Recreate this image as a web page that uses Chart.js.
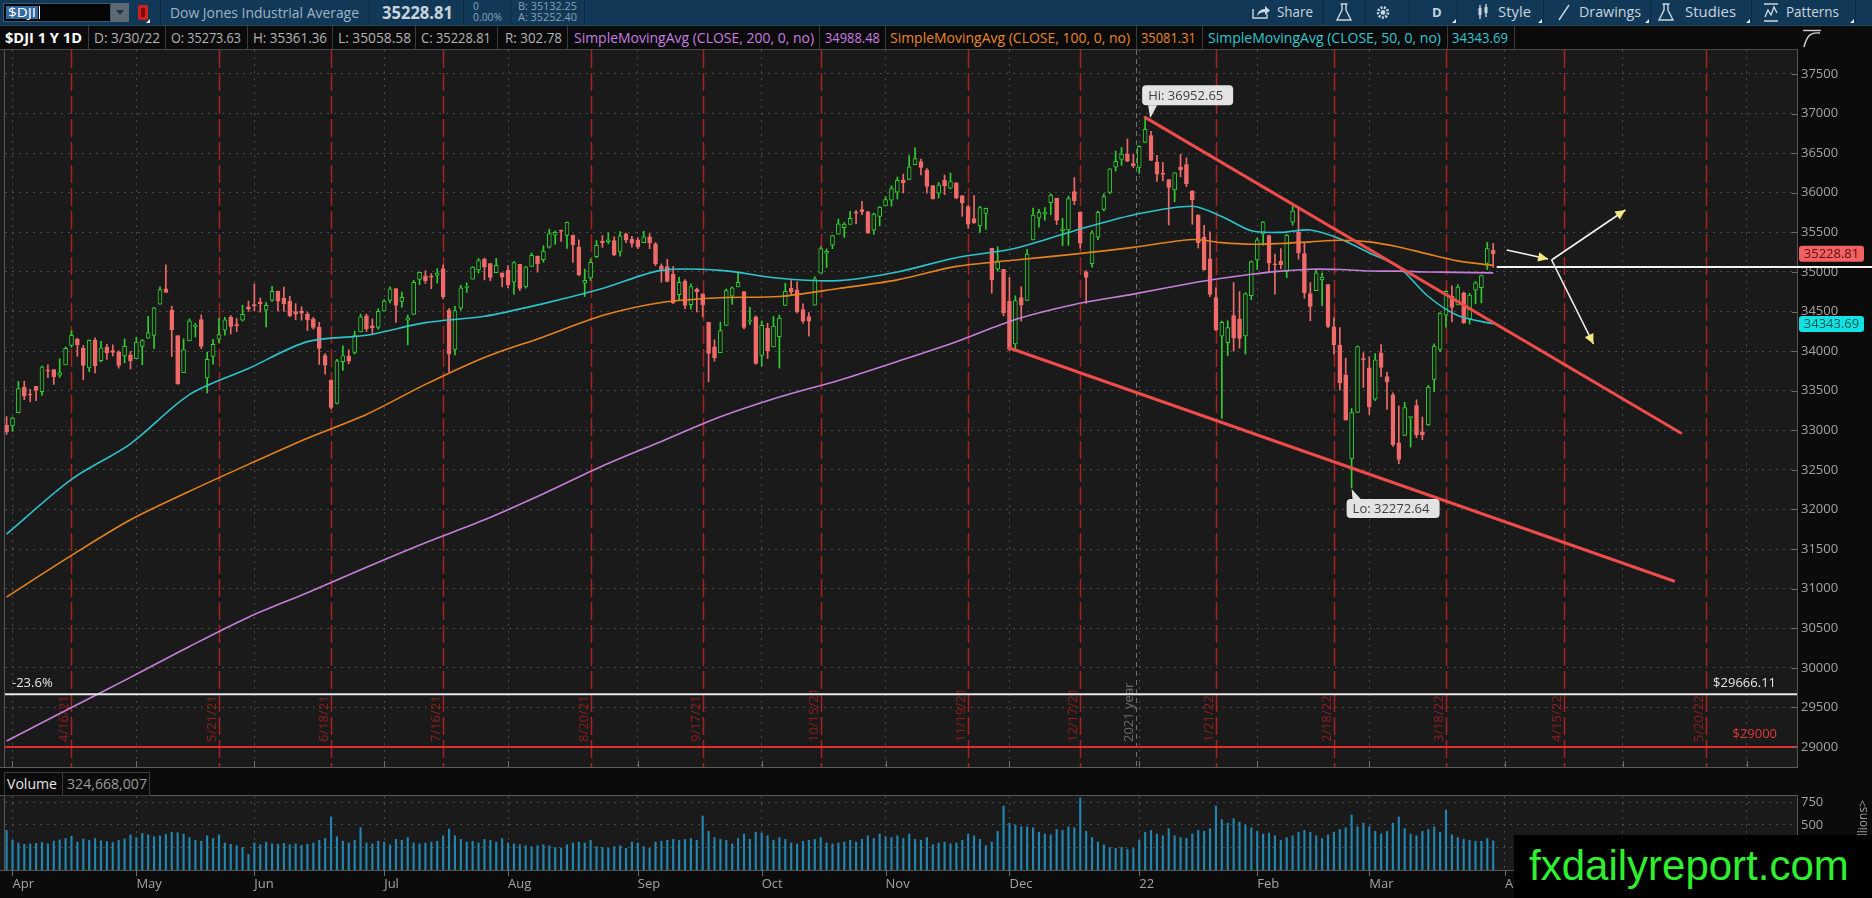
<!DOCTYPE html>
<html>
<head>
<meta charset="utf-8">
<title>$DJI 1 Y 1D</title>
<script src="https://cdn.jsdelivr.net/npm/chart.js@4.4.1/dist/chart.umd.min.js"></script>
<style>
  html, body { margin: 0; padding: 0; background: #0b0b0b; }
  body { position: relative; width: 1872px; height: 898px; overflow: hidden; font-family: "Open Sans", sans-serif; }
  svg, canvas { position: absolute; left: 0; display: block; }
  #top { top: 0; }
  #main { top: 50px; }
  #strip { top: 767px; }
  #vol { top: 796px; }
  #wm { position: absolute; left: 1514px; top: 835px; width: 358px; height: 63px; background: #000;
        color: #2ff02f; font: 42px "Liberation Sans", Arial, sans-serif; line-height: 62px;
        padding-left: 15px; box-sizing: border-box; white-space: nowrap; }
</style>
</head>
<body>

<svg id="top" width="1872" height="50" font-family="'Open Sans', sans-serif">
  <rect width="1872" height="26" fill="#113957"/>
  <rect y="26" width="1872" height="24" fill="#0b0b0b"/>
  <line x1="0" y1="25.5" x2="1872" y2="25.5" stroke="#27475f"/>
  <!-- symbol field -->
  <rect x="3.5" y="3.5" width="107" height="18" fill="#060606" stroke="#3e5a70"/>
  <rect x="6" y="6" width="32" height="13" fill="#3468a0"/>
  <text x="8" y="17" font-size="13" fill="#ffffff" textLength="28" lengthAdjust="spacingAndGlyphs">$DJI</text>
  <line x1="39.5" y1="6" x2="39.5" y2="19" stroke="#ffffff"/>
  <rect x="111" y="3" width="18" height="19" fill="#5b6974"/>
  <path d="M116 10h8l-4 5z" fill="#2a3136"/>
  <rect x="138" y="5" width="10" height="15" rx="2" fill="#cf2020"/>
  <rect x="141" y="8" width="4" height="9" rx="1" fill="#7a0c0c"/>
  <path d="M146 23h4v-4z" fill="#ffffff"/>
  <g stroke="#0a2b42">
    <line x1="160.5" y1="0" x2="160.5" y2="25"/>
    <line x1="369.5" y1="0" x2="369.5" y2="25"/>
    <line x1="463.5" y1="0" x2="463.5" y2="25"/>
    <line x1="510.5" y1="0" x2="510.5" y2="25"/>
    <line x1="584.5" y1="0" x2="584.5" y2="25"/>
  </g>
  <text x="170" y="18" font-size="14" fill="#9fb3c6" textLength="189" lengthAdjust="spacingAndGlyphs">Dow Jones Industrial Average</text>
  <text x="382" y="19" font-size="17" font-weight="bold" fill="#c6d3de" textLength="71" lengthAdjust="spacingAndGlyphs">35228.81</text>
  <text x="473" y="10" font-size="10" fill="#8aa2b6">0</text>
  <text x="473" y="21" font-size="10" fill="#8aa2b6" textLength="29" lengthAdjust="spacingAndGlyphs">0.00%</text>
  <text x="518" y="10" font-size="10" fill="#8aa2b6" textLength="59" lengthAdjust="spacingAndGlyphs">B: 35132.25</text>
  <text x="518" y="21" font-size="10" fill="#8aa2b6" textLength="59" lengthAdjust="spacingAndGlyphs">A: 35252.40</text>

  <!-- right hand tool buttons -->
  <g stroke="#0a2b42">
    <line x1="1323.5" y1="0" x2="1323.5" y2="25"/>
    <line x1="1365.5" y1="0" x2="1365.5" y2="25"/>
    <line x1="1409.5" y1="0" x2="1409.5" y2="25"/>
    <line x1="1457.5" y1="0" x2="1457.5" y2="25"/>
    <line x1="1543.5" y1="0" x2="1543.5" y2="25"/>
    <line x1="1650.5" y1="0" x2="1650.5" y2="25"/>
    <line x1="1751.5" y1="0" x2="1751.5" y2="25"/>
    <line x1="1855.5" y1="0" x2="1855.5" y2="25"/>
  </g>
  <g fill="none" stroke="#c9d6e0" stroke-width="1.4">
    <path d="M1253 9v9h14v-4"/>
    <path d="M1340.5 4h7M1342 4v6l-5 10h14l-5-10v-6"/>
    <circle cx="1383" cy="12.5" r="5" stroke-width="2.6" stroke-dasharray="2 1.4"/>
    <path d="M1480 5v14M1486 4v13"/>
    <path d="M1559 20l10-15"/>
    <path d="M1662.5 4h7M1664 4v6l-5 10h14l-5-10v-6"/>
    <path d="M1764 4h14M1764 21h14M1765 17l3-7 3 5 3-8 3 6"/>
  </g>
  <path d="M1257 16c1-5 4-7 8-7v-3l5 4.5-5 4.5v-3c-3 0-6 1-8 4z" fill="#c9d6e0"/>
  <circle cx="1383" cy="12.5" r="2.4" fill="#c9d6e0"/>
  <rect x="1478.5" y="8" width="3" height="7" fill="#c9d6e0"/>
  <rect x="1484.5" y="7" width="3" height="6" fill="#c9d6e0"/>
  <g font-size="14" fill="#c8d5df">
    <text x="1277" y="17" textLength="36" lengthAdjust="spacingAndGlyphs">Share</text>
    <text x="1432" y="17" font-weight="bold" font-size="13">D</text>
    <text x="1498" y="17" textLength="33" lengthAdjust="spacingAndGlyphs">Style</text>
    <text x="1579" y="17" textLength="62" lengthAdjust="spacingAndGlyphs">Drawings</text>
    <text x="1685" y="17" textLength="51" lengthAdjust="spacingAndGlyphs">Studies</text>
    <text x="1786" y="17" textLength="53" lengthAdjust="spacingAndGlyphs">Patterns</text>
  </g>
  <g fill="#e0e8ee">
    <path d="M1452 23h4v-4z"/><path d="M1538 23h4v-4z"/><path d="M1645 23h4v-4z"/>
    <path d="M1746 23h4v-4z"/><path d="M1850 23h4v-4z"/>
  </g>

  <!-- study legend row -->
  <g stroke="#3c3c3c">
    <line x1="88.5" y1="26" x2="88.5" y2="50"/>
    <line x1="165.5" y1="26" x2="165.5" y2="50"/>
    <line x1="247.5" y1="26" x2="247.5" y2="50"/>
    <line x1="332.5" y1="26" x2="332.5" y2="50"/>
    <line x1="415.5" y1="26" x2="415.5" y2="50"/>
    <line x1="497.5" y1="26" x2="497.5" y2="50"/>
    <line x1="567.5" y1="26" x2="567.5" y2="50"/>
    <line x1="819.5" y1="26" x2="819.5" y2="50"/>
    <line x1="885.5" y1="26" x2="885.5" y2="50"/>
    <line x1="1136.5" y1="26" x2="1136.5" y2="50"/>
    <line x1="1202.5" y1="26" x2="1202.5" y2="50"/>
    <line x1="1447.5" y1="26" x2="1447.5" y2="50"/>
    <line x1="1514.5" y1="26" x2="1514.5" y2="50"/>
  </g>
  <line x1="0" y1="49.5" x2="1798" y2="49.5" stroke="#4a4a4a"/>
  <g font-size="14" fill="#b4b4b4">
    <text x="5" y="43" fill="#ffffff" font-weight="bold" textLength="77" lengthAdjust="spacingAndGlyphs">$DJI 1 Y 1D</text>
    <text x="94" y="43" textLength="66" lengthAdjust="spacingAndGlyphs">D: 3/30/22</text>
    <text x="171" y="43" textLength="70" lengthAdjust="spacingAndGlyphs">O: 35273.63</text>
    <text x="253" y="43" textLength="74" lengthAdjust="spacingAndGlyphs">H: 35361.36</text>
    <text x="338" y="43" textLength="73" lengthAdjust="spacingAndGlyphs">L: 35058.58</text>
    <text x="421" y="43" textLength="70" lengthAdjust="spacingAndGlyphs">C: 35228.81</text>
    <text x="505" y="43" textLength="57" lengthAdjust="spacingAndGlyphs">R: 302.78</text>
    <text x="574" y="43" fill="#c77ee0" textLength="240" lengthAdjust="spacingAndGlyphs">SimpleMovingAvg (CLOSE, 200, 0, no)</text>
    <text x="825" y="43" fill="#c77ee0" textLength="55" lengthAdjust="spacingAndGlyphs">34988.48</text>
    <text x="890" y="43" fill="#e8862a" textLength="240" lengthAdjust="spacingAndGlyphs">SimpleMovingAvg (CLOSE, 100, 0, no)</text>
    <text x="1141" y="43" fill="#e8862a" textLength="55" lengthAdjust="spacingAndGlyphs">35081.31</text>
    <text x="1208" y="43" fill="#2ec8d2" textLength="233" lengthAdjust="spacingAndGlyphs">SimpleMovingAvg (CLOSE, 50, 0, no)</text>
    <text x="1452" y="43" fill="#2ec8d2" textLength="56" lengthAdjust="spacingAndGlyphs">34343.69</text>
  </g>
  <g fill="none" stroke="#cfcfcf" stroke-width="1.4">
    <path d="M1803 30.5h18"/>
    <path d="M1804 47c3-12 7-15 16-14"/>
  </g>
</svg>

<canvas id="main" width="1872" height="717"></canvas>

<svg id="strip" width="1872" height="29" font-family="'Open Sans', sans-serif">
  <rect width="1872" height="29" fill="#0b0b0b"/>
  <line x1="0" y1="0.5" x2="1798" y2="0.5" stroke="#5a5a5a"/>
  <line x1="0" y1="28.5" x2="1798" y2="28.5" stroke="#5a5a5a"/>
  <rect x="4.5" y="5.5" width="58" height="23" fill="none" stroke="#3c3c3c"/>
  <rect x="62.5" y="5.5" width="87" height="23" fill="none" stroke="#3c3c3c"/>
  <text x="7" y="22" font-size="14" fill="#e4e4e4" textLength="50" lengthAdjust="spacingAndGlyphs">Volume</text>
  <text x="67" y="22" font-size="14" fill="#9c9c9c" textLength="80" lengthAdjust="spacingAndGlyphs">324,668,007</text>
</svg>

<canvas id="vol" width="1872" height="102"></canvas>

<div id="wm">fxdailyreport.com</div>

<script>
// Daily bars of $DJI, 31 Mar 2021 .. 30 Mar 2022. Bar 0 of the arrays is one trading day before 1 Apr 2021.
const firstBar = -1;

const opens = [
  33067,
  33055,33222,33546,33455,33554,33489,33762,33767,33696,33826,34071,34150,34034,33788,34140,33880,34051,34008,33990,33940,33953,
  33904,34060,34163,34200,34594,34788,34516,34195,33729,34130,34313,34398,33661,33932,34150,34266,34427,34336,34390,34558,
  34584,34618,34516,34645,34756,34670,34633,34499,34505,34465,34404,34304,33944,33635,33339,33867,33937,33983,34242,34446,34318,34300,
  34507,34642,34790,34627,34392,34465,34905,34950,34948,34957,35041,34520,34022,34541,34805,34910,35026,35161,35107,34990,34990,
  35023,34870,35095,34811,35071,35198,35156,35312,35466,35517,35460,35466,35315,34859,34925,35194,35389,35383,35396,35252,35480,35416,
  35407,35370,35444,35356,35075,35069,34969,34713,34884,34587,34779,34723,34365,34054,33980,34326,34694,34811,34751,34375,34433,
  33945,34290,34053,34182,34577,34793,34775,34526,34437,34581,34985,35236,35339,35477,35558,35601,35747,35789,35758,35529,35700,
  35833,35905,36007,36163,36170,36356,36395,36283,36092,35995,36161,36057,36127,35960,35826,35675,35580,35740,35300,35036,35032,
  34632,34090,34675,34640,35406,35681,35730,35876,35930,35522,35531,36015,35757,35000,35103,35440,35791,36003,36322,36421,36487,36370,
  36321,36636,36722,36389,36249,36167,36035,36323,36356,36026,35720,35438,35167,34677,34188,34107,34450,34409,34193,34700,
  35152,35481,35460,35094,35138,35006,35628,35500,35233,34728,34765,34898,34839,34306,34078,33700,32640,33226,33906,
  33790,33394,33979,33680,33447,32842,32935,33159,33313,32981,33068,33642,34022,34453,34695,34584,34735,34411,34769,34800,35109,35273.63
];
const highs = [
  33173,
  33167,33617,33621,33518,33554,33810,33826,33767,33904,34051,34257,34166,34072,34141,34167,34125,34087,34079,34003,34153,33996,
  34177,34148,34438,34551,34811,35091,34566,34195,34156,34408,34351,34458,33987,34150,34415,34426,34450,34412,34580,34631,
  34849,34671,34613,34817,34757,34809,34694,34600,34561,34492,34428,34363,33969,33635,33898,34066,34015,34253,34467,34468,34406,34536,
  34651,34812,34790,34747,34455,34893,34998,35015,34979,35042,35091,34536,34566,34830,34862,35067,35171,35175,35107,35171,34990,
  35080,35130,35095,35070,35240,35203,35331,35539,35519,35529,35631,35466,35405,35036,35165,35397,35459,35495,35444,35510,35492,35449,
  35434,35514,35483,35372,35102,35158,35069,34935,34904,34851,34796,34723,34365,34142,34367,34784,34812,35000,34751,34553,34444,
  34382,34352,34436,34454,34857,34892,34875,34597,34488,34939,35320,35290,35462,35669,35625,35765,35779,35892,35765,35745,35826,
  35952,36089,36198,36236,36471,36566,36424,36307,36092,36130,36223,36249,36127,35968,35837,35965,35830,35807,35300,35319,35032,
  34932,34700,34813,35286,35806,35790,35813,35988,35931,35678,35958,36193,35757,35016,35524,35770,35987,36307,36527,36572,36679,36484,
  36595,36952.65,36775,36472,36383,36167,36253,36485,36439,36026,35720,35589,35507,34800,34380,34384,34864,34752,34739,35140,
  35432,35635,35467,35227,35295,35473,35828,35824,35370,34865,35020,34988,34839,34419,34297,33910,33275,34066,33980,
  33931,33969,34084,33735,33472,33308,33353,33175,33386,33167,33568,34091,34488,34765,34825,34838,34746,34729,34881,34960,35372,35361.36
];
const lows = [
  32948,
  32985,33222,33387,33361,33374,33441,33666,33579,33668,33826,34048,33935,33638,33741,33726,33863,33895,33939,33784,33851,33775,
  33904,33828,34162,34032,34594,34742,33933,33580,33729,34130,34179,34031,33473,33834,34107,34201,34217,34248,34379,34503,
  34506,34493,34305,34627,34509,34500,34434,34398,34390,34259,34278,33832,33708,33272,33334,33757,33839,33964,34242,34246,34216,34278,
  34507,34609,34363,34554,34080,34465,34839,34853,34789,34859,34659,33741,33953,34516,34740,34910,34986,34900,34890,34990,34810,
  34800,34719,34763,34795,35071,34997,35123,35301,35348,35385,35298,35121,34952,34690,34892,35179,35310,35355,35206,35200,35369,35313,
  35295,35370,35293,35081,34870,34875,34600,34643,34535,34529,34494,34433,33613,33874,33980,34326,34591,34811,34279,34336,33834,
  33808,33907,34053,33785,34577,34708,34482,34353,34189,34581,34985,35056,35294,35477,35437,35601,35610,35723,35488,35476,35581,
  35833,35831,35921,35998,36164,36356,36224,35996,35920,35934,35977,36048,35923,35703,35553,35612,35500,35538,34732,35009,34445,
  34006,34019,34380,34640,35406,35567,35653,35724,35600,35331,35337,35850,35300,34601,35060,35409,35770,35989,36275,36346,36394,36319,
  36246,36636,36407,36144,36149,35593,35887,36201,36077,35601,35301,35021,34688,34261,33150,33940,34000,34039,33963,34650,
  35030,35338,34993,34718,35040,34929,35590,35162,34668,34384,34765,34574,34293,33965,33507,33126,32272.64,33226,33541,
  33200,33376,33676,33265,32796,32579,32935,32788,32908,32883,33061,33489,33993,34304,34368,34584,34349,34341,34598,34610,35030,35058.58
];
const closes = [
  32982,
  33153,33527,33430,33446,33504,33801,33746,33677,33730,34035,34200,34078,33821,34137,33815,34043,33981,33984,33820,34060,33875,
  34113,34133,34230,34548,34778,34743,34270,33587,34021,34382,34327,34060,33896,34085,34208,34394,34313,34323,34465,34529,
  34575,34600,34577,34756,34630,34600,34447,34466,34480,34394,34299,34033,33823,33290,33877,33945,33874,34196,34433,34283,34292,34503,
  34633,34786,34577,34681,34421,34870,34996,34889,34933,34987,34688,33962,34512,34798,34823,35062,35145,35059,34931,35085,34935,
  34838,35117,34793,35065,35209,35102,35265,35485,35500,35515,35626,35343,34961,34894,35120,35336,35367,35406,35214,35456,35400,35361,
  35313,35444,35369,35100,35031,34879,34608,34870,34578,34814,34751,34585,33970,33919,34258,34765,34798,34870,34300,34390,33844,
  34326,34003,34315,34417,34755,34746,34496,34378,34378,34912,35295,35259,35458,35609,35603,35677,35741,35757,35490,35731,35820,
  35913,36053,36158,36124,36328,36432,36320,36080,35921,36100,36087,36142,35931,35871,35602,35619,35814,35804,34899,35136,34484,
  34022,34640,34580,35227,35719,35754,35754,35971,35651,35545,35928,35898,35365,34932,35493,35754,35951,36302,36398,36488,36398,36338,
  36585,36800,36408,36236,36231,36068,36252,36290,36114,35912,35369,35029,34715,34265,34365,34298,34168,34161,34725,35132,
  35405,35629,35111,35090,35091,35463,35768,35241,34738,34566,34989,34934,34312,34079,33597,33131,33224,34059,33893,
  33295,33891,33795,33615,32818,32633,33286,33174,32944,32945,33545,34064,34481,34755,34553,34808,34359,34708,34862,34955,35294,35228.81
];
// volume, millions of shares
const volumes = [
  440,
  330,300,285,290,295,305,290,320,335,350,375,310,345,330,350,325,315,305,330,345,390,
  360,405,390,370,380,395,420,415,400,360,330,320,380,350,390,300,285,270,250,175,
  300,280,310,290,285,295,280,290,275,285,300,330,350,590,370,320,300,330,470,300,290,320,
  310,280,340,330,360,300,290,300,310,320,380,455,380,340,310,320,300,340,330,310,350,
  300,290,280,270,260,270,280,270,250,245,280,300,310,300,330,260,250,240,260,270,240,310,
  300,260,240,310,320,330,340,330,340,350,330,600,430,360,340,330,290,350,400,340,420,
  410,380,330,360,340,300,290,320,330,340,360,300,290,300,310,330,310,340,380,350,400,
  370,360,380,350,400,340,330,360,280,300,310,290,300,330,400,380,340,270,310,430,711,
  520,500,480,480,470,420,400,390,450,440,480,470,800,430,360,310,280,250,240,250,230,240,
  330,420,440,400,380,460,380,360,350,400,440,430,460,711,560,520,570,530,500,470,
  430,400,410,380,330,360,380,420,440,420,380,350,390,420,450,470,611,480,520,
  480,430,400,430,520,589,460,400,380,430,450,480,420,667,390,360,340,330,320,320,350,325
];

const maIdx  = [-1, 10, 20, 30, 40, 50, 60, 70, 80, 90, 100, 110, 120, 130, 140, 150, 160, 170, 180, 190, 200, 205, 210, 215, 220, 225, 230, 235, 240, 245, 251];
const sma50  = [31690,32380,32830,33450,33780,34120,34200,34360,34440,34600,34790,35020,35020,34920,34890,35000,35180,35300,35520,35720,35830,35700,35520,35500,35530,35420,35240,35060,34690,34450,34343.69];
const sma100 = [30895,31420,31870,32230,32570,32900,33200,33580,33920,34180,34450,34615,34675,34690,34790,34900,35070,35150,35225,35310,35410,35370,35350,35360,35380,35400,35380,35315,35225,35140,35081.31];
const sma200 = [29076,29500,29880,30270,30640,30950,31270,31580,31870,32200,32550,32860,33170,33420,33630,33870,34120,34400,34590,34720,34860,34920,34970,35010,35035,35030,35012,35010,35000,34995,34988.48];

// axes
const monthIdx    = [0, 21, 41, 63, 84, 106, 127, 148, 169, 191, 211, 230, 253, 273, 294];
const monthLabels = ['Apr','May','Jun','Jul','Aug','Sep','Oct','Nov','Dec','22','Feb','Mar','Apr','May','Jun'];
const priceTicks  = [29000,29500,30000,30500,31000,31500,32000,32500,33000,33500,34000,34500,35000,35500,36000,36500,37000,37500];
const volTicks    = [250, 500, 750];

// monthly expirations and the year break
const expIdx    = [10, 35, 54, 73, 98, 117, 137, 162, 181, 204, 224, 243, 263, 287];
const expLabels = ['4/16/21','5/21/21','6/18/21','7/16/21','8/20/21','9/17/21','10/15/21','11/19/21','12/17/21','1/21/22','2/18/22','3/18/22','4/15/22','5/20/22'];
const yearBreak = 190.5;

// drawings
const upperTrendX = [192, 282.8];
const upperTrendY = [36952.65, 32966];
const lowerTrendX = [169, 281.6];
const lowerTrendY = [34040, 31097];
const fibLevels   = [29666.11, 29000];
const pivotLevel  = 35063;
const pivotFrom   = 251.6;
const projectionArrows = [
  [253.3, 35277, 260.3, 35163],
  [260.9, 35151, 273.4, 35782],
  [260.9, 35151, 268.0, 34090]
];

const X_MIN = -1.27, X_MAX = 302.5;
const Y_MIN = 28748, Y_MAX = 37803;
const VOL_MAX = 822;

const UP = '#2fce2f', DOWN = '#f06a6a', PLOT_BG = '#1a1a1a', AXIS_BG = '#0b0b0b';
const GRID = '#4b4b4b';
const FONT = '"Open Sans", "DejaVu Sans", sans-serif';

Chart.defaults.font.family = FONT;
Chart.defaults.font.size = 13;

const barX = i => i + firstBar;
const isUp = i => closes[i] >= opens[i];
const points = (xs, ys) => xs.map((x, i) => ({ x, y: ys[i] }));

// keep the plot area exactly where the axes say it is
const noPad = s => { s.paddingTop = 0; s.paddingBottom = 0; s.paddingLeft = 0; s.paddingRight = 0; };

function arrow(ctx, x1, y1, x2, y2) {
  ctx.strokeStyle = '#f2f2f2';
  ctx.lineWidth = 1.6;
  ctx.beginPath(); ctx.moveTo(x1, y1); ctx.lineTo(x2, y2); ctx.stroke();
  const a = Math.atan2(y2 - y1, x2 - x1), L = 11, W = 0.45;
  ctx.fillStyle = '#f3e97c';
  ctx.beginPath();
  ctx.moveTo(x2, y2);
  ctx.lineTo(x2 - L * Math.cos(a - W), y2 - L * Math.sin(a - W));
  ctx.lineTo(x2 - L * Math.cos(a + W), y2 - L * Math.sin(a + W));
  ctx.closePath(); ctx.fill();
}

function bubble(ctx, text, bx, by, w, h, tip, b1, b2) {
  ctx.fillStyle = '#e3e3e3';
  ctx.beginPath(); ctx.roundRect(bx, by, w, h, 4); ctx.fill();
  ctx.beginPath(); ctx.moveTo(tip[0], tip[1]); ctx.lineTo(b1[0], b1[1]); ctx.lineTo(b2[0], b2[1]); ctx.closePath(); ctx.fill();
  ctx.fillStyle = '#3e3e3e';
  ctx.font = '13px ' + FONT;
  ctx.textAlign = 'left'; ctx.textBaseline = 'middle';
  ctx.fillText(text, bx + 6, by + h / 2 + 0.5);
}

function priceTag(ctx, left, yPix, text, fill, ink) {
  ctx.fillStyle = fill;
  ctx.beginPath(); ctx.roundRect(left, yPix - 8, 65, 16, 3); ctx.fill();
  ctx.fillStyle = ink;
  ctx.font = '13px ' + FONT;
  ctx.textAlign = 'center'; ctx.textBaseline = 'middle';
  ctx.fillText(text, left + 32.5, yPix + 0.5);
}

const mainDecor = {
  id: 'mainDecor',
  beforeDraw(chart) {
    const { ctx, chartArea: a, width, height } = chart;
    ctx.save();
    ctx.fillStyle = AXIS_BG; ctx.fillRect(0, 0, width, height);
    ctx.fillStyle = PLOT_BG; ctx.fillRect(0, 0, a.right, height);
    ctx.restore();
  },
  beforeDatasetsDraw(chart) {
    const { ctx, chartArea: a, scales: { x, y } } = chart;
    const labelBase = y.getPixelForValue(fibLevels[1]) - 5;
    ctx.save();
    ctx.beginPath(); ctx.rect(a.left, a.top, a.right - a.left, a.bottom - a.top); ctx.clip();
    ctx.font = '13px ' + FONT;
    ctx.textAlign = 'left'; ctx.textBaseline = 'bottom';
    expIdx.forEach((d, k) => {
      const px = Math.round(x.getPixelForValue(d)) + 0.5;
      ctx.strokeStyle = '#a82222'; ctx.lineWidth = 1.5; ctx.setLineDash([18, 5]);
      ctx.beginPath(); ctx.moveTo(px, a.top); ctx.lineTo(px, a.bottom); ctx.stroke();
      ctx.save();
      ctx.translate(px - 1, labelBase); ctx.rotate(-Math.PI / 2);
      ctx.fillStyle = '#961d1d'; ctx.fillText(expLabels[k], 0, 0);
      ctx.restore();
    });
    const yb = Math.round(x.getPixelForValue(yearBreak)) + 0.5;
    ctx.strokeStyle = '#707070'; ctx.lineWidth = 1; ctx.setLineDash([5, 4]);
    ctx.beginPath(); ctx.moveTo(yb, a.top); ctx.lineTo(yb, a.bottom); ctx.stroke();
    ctx.save();
    ctx.translate(yb - 1, labelBase); ctx.rotate(-Math.PI / 2);
    ctx.fillStyle = '#6c6c6c'; ctx.fillText('2021 year', 0, 0);
    ctx.restore();
    ctx.restore();
  },
  afterDatasetsDraw(chart) {
    const { ctx, chartArea: a, scales: { x, y } } = chart;
    ctx.save();
    // fibonacci level captions
    ctx.font = '13px ' + FONT; ctx.textBaseline = 'bottom';
    const f0 = y.getPixelForValue(fibLevels[0]), f1 = y.getPixelForValue(fibLevels[1]);
    ctx.fillStyle = '#e6e6e6';
    ctx.textAlign = 'left'; ctx.fillText('-23.6%', a.left + 7, f0 - 5);
    ctx.textAlign = 'right'; ctx.fillText('$' + fibLevels[0].toFixed(2), a.right - 21, f0 - 5);
    ctx.fillStyle = '#e23a3a';
    ctx.fillText('$' + fibLevels[1], a.right - 20, f1 - 6);

    // projection arrows
    projectionArrows.forEach(p => arrow(ctx,
      x.getPixelForValue(p[0]), y.getPixelForValue(p[1]),
      x.getPixelForValue(p[2]), y.getPixelForValue(p[3])));

    // high / low bubbles
    const hi = Math.max(...highs), lo = Math.min(...lows);
    const hx = x.getPixelForValue(barX(highs.indexOf(hi))), hy = y.getPixelForValue(hi);
    bubble(ctx, 'Hi: ' + hi.toFixed(2), hx - 3, hy - 32, 91, 20, [hx + 5, hy + 1], [hx + 3, hy - 12], [hx + 12, hy - 12]);
    const lx = x.getPixelForValue(barX(lows.indexOf(lo))), ly = y.getPixelForValue(lo);
    bubble(ctx, 'Lo: ' + lo.toFixed(2), lx - 5, ly + 11, 93, 19, [lx, ly + 1], [lx + 1, ly + 12], [lx + 10, ly + 12]);

    // tick marks on the bottom and right edges
    ctx.strokeStyle = '#6e6e6e'; ctx.lineWidth = 1;
    ctx.beginPath();
    monthIdx.forEach(v => {
      const px = Math.round(x.getPixelForValue(v)) + 0.5;
      ctx.moveTo(px, a.bottom - 6); ctx.lineTo(px, a.bottom);
    });
    priceTicks.forEach(v => {
      const py = Math.round(y.getPixelForValue(v)) + 0.5;
      ctx.moveTo(a.right - 5, py); ctx.lineTo(a.right, py);
    });
    ctx.stroke();
    ctx.restore();
  },
  afterDraw(chart) {
    const { ctx, chartArea: a, scales: { x, y }, width } = chart;
    ctx.save();
    ctx.strokeStyle = '#555555'; ctx.lineWidth = 1;
    ctx.beginPath();
    ctx.moveTo(a.right + 0.5, 0); ctx.lineTo(a.right + 0.5, a.bottom);
    ctx.moveTo(a.left - 0.5, 0); ctx.lineTo(a.left - 0.5, a.bottom);
    ctx.stroke();
    // pivot level running into the price axis
    const py = y.getPixelForValue(pivotLevel);
    ctx.strokeStyle = '#f2f2f2'; ctx.lineWidth = 2;
    ctx.beginPath(); ctx.moveTo(x.getPixelForValue(pivotFrom), py); ctx.lineTo(width, py); ctx.stroke();
    // last values on the axis
    const lastClose = closes[closes.length - 1], lastSma = sma50[sma50.length - 1];
    priceTag(ctx, a.right + 2, y.getPixelForValue(lastClose), lastClose.toFixed(2), '#f26262', '#5c0e0e');
    priceTag(ctx, a.right + 2, y.getPixelForValue(lastSma), lastSma.toFixed(2), '#12e2e2', '#075858');
    ctx.restore();
  }
};

const maLine = (ys, color) => ({
  type: 'line', data: points(maIdx, ys), borderColor: color, borderWidth: 1.6,
  pointRadius: 0, tension: 0.3, fill: false, order: 2
});
const straight = (pts, color, w) => ({
  type: 'line', data: pts, borderColor: color, borderWidth: w,
  pointRadius: 0, tension: 0, fill: false, borderCapStyle: 'round', order: 1
});

new Chart(document.getElementById('main'), {
  type: 'bar',
  data: {
    datasets: [
      { data: lows.map((l, i) => ({ x: barX(i), y: [l, highs[i]] })), barThickness: 1, grouped: false,
        backgroundColor: c => isUp(c.dataIndex) ? UP : DOWN, order: 5 },
      { data: opens.map((o, i) => ({ x: barX(i), y: [o, closes[i]] })), barThickness: 4, grouped: false,
        minBarLength: 1, borderWidth: 1, borderSkipped: false,
        backgroundColor: c => isUp(c.dataIndex) ? PLOT_BG : DOWN,
        borderColor: c => isUp(c.dataIndex) ? UP : DOWN, order: 4 },
      maLine(sma200, '#c57fd8'),
      maLine(sma100, '#e5821f'),
      maLine(sma50, '#2cc3cc'),
      straight([{ x: X_MIN, y: fibLevels[0] }, { x: X_MAX, y: fibLevels[0] }], '#e8e8e8', 2),
      straight([{ x: X_MIN, y: fibLevels[1] }, { x: X_MAX, y: fibLevels[1] }], '#de2e2e', 2),
      straight(points(upperTrendX, upperTrendY), '#ee4b4b', 3),
      straight(points(lowerTrendX, lowerTrendY), '#ee4b4b', 3)
    ]
  },
  options: {
    responsive: false, animation: false, devicePixelRatio: 1, events: [],
    layout: { padding: { left: 5 }, autoPadding: false },
    plugins: { legend: { display: false }, tooltip: { enabled: false } },
    scales: {
      x: {
        type: 'linear', min: X_MIN, max: X_MAX, offset: false,
        afterBuildTicks: s => { s.ticks = monthIdx.map(v => ({ value: v })); },
        ticks: { display: false },
        grid: { color: GRID, drawTicks: false, offset: false },
        border: { display: false, dash: [2, 5] },
        afterFit: s => { s.height = 0; noPad(s); }
      },
      y: {
        type: 'linear', position: 'right', min: Y_MIN, max: Y_MAX,
        afterBuildTicks: s => { s.ticks = priceTicks.map(v => ({ value: v })); },
        ticks: { color: '#a3a3a3', font: { size: 13 }, padding: 4, autoSkip: false, callback: v => String(v) },
        grid: { color: GRID, drawTicks: false },
        border: { display: false, dash: [2, 5] },
        afterFit: s => { s.width = 75; noPad(s); }
      }
    }
  },
  plugins: [mainDecor]
});

const volDecor = {
  id: 'volDecor',
  beforeDraw(chart) {
    const { ctx, chartArea: a, width, height } = chart;
    ctx.save();
    ctx.fillStyle = AXIS_BG; ctx.fillRect(0, 0, width, height);
    ctx.fillStyle = PLOT_BG; ctx.fillRect(0, 0, a.right, a.bottom);
    ctx.restore();
  },
  afterDraw(chart) {
    const { ctx, chartArea: a, scales: { x } } = chart;
    ctx.save();
    ctx.strokeStyle = '#555555'; ctx.lineWidth = 1;
    ctx.beginPath();
    ctx.moveTo(a.right + 0.5, 0); ctx.lineTo(a.right + 0.5, a.bottom);
    ctx.moveTo(a.left - 0.5, 0); ctx.lineTo(a.left - 0.5, a.bottom);
    ctx.moveTo(0, a.bottom + 0.5); ctx.lineTo(a.right, a.bottom + 0.5);
    ctx.stroke();
    ctx.strokeStyle = '#6e6e6e';
    ctx.beginPath();
    monthIdx.forEach(v => {
      const px = Math.round(x.getPixelForValue(v)) + 0.5;
      ctx.moveTo(px, a.bottom); ctx.lineTo(px, a.bottom + 6);
    });
    ctx.stroke();
    ctx.translate(chart.width - 8, 4); ctx.rotate(-Math.PI / 2);
    ctx.fillStyle = '#9a9a9a'; ctx.font = '12px ' + FONT;
    ctx.textAlign = 'right'; ctx.textBaseline = 'middle';
    ctx.fillText('<millions>', 0, 0);
    ctx.restore();
  }
};

new Chart(document.getElementById('vol'), {
  type: 'bar',
  data: {
    datasets: [{
      data: volumes.map((v, i) => ({ x: barX(i), y: v })),
      barThickness: 1.5, grouped: false, backgroundColor: '#2185b0'
    }]
  },
  options: {
    responsive: false, animation: false, devicePixelRatio: 1, events: [],
    layout: { padding: { left: 5 }, autoPadding: false },
    plugins: { legend: { display: false }, tooltip: { enabled: false } },
    scales: {
      x: {
        type: 'linear', min: X_MIN, max: X_MAX, offset: false,
        afterBuildTicks: s => { s.ticks = monthIdx.map(v => ({ value: v })); },
        ticks: { color: '#a3a3a3', font: { size: 13 }, align: 'start', padding: 6, maxRotation: 0, autoSkip: false,
                 callback: (v, i) => monthLabels[i] },
        grid: { color: GRID, drawTicks: false, offset: false },
        border: { display: false, dash: [2, 5] },
        afterFit: s => { s.height = 28; noPad(s); }
      },
      y: {
        type: 'linear', position: 'right', min: 0, max: VOL_MAX,
        afterBuildTicks: s => { s.ticks = volTicks.map(v => ({ value: v })); },
        ticks: { color: '#a3a3a3', font: { size: 13 }, padding: 4, autoSkip: false, callback: v => String(v) },
        grid: { color: GRID, drawTicks: false },
        border: { display: false, dash: [2, 5] },
        afterFit: s => { s.width = 75; noPad(s); }
      }
    }
  },
  plugins: [volDecor]
});
</script>
</body>
</html>
